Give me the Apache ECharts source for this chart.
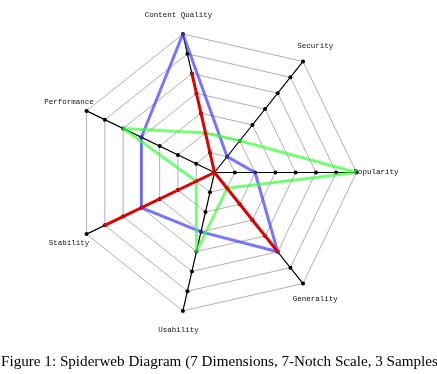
<!DOCTYPE html>
<html><head><meta charset="utf-8">
<script src="https://cdn.jsdelivr.net/npm/echarts@6/dist/echarts.min.js"></script>
<style>html,body{margin:0;padding:0;background:#fff}#c{width:437px;height:374px}</style>
</head><body><div id="c"></div>
<script>
const dimensions = ['Popularity','Security','Content Quality','Performance','Stability','Usability','Generality'];
const notches = [1,2,3,4,5,6,7];
const sampleBlue  = [2,1,7,4,4,3,5];
const sampleRed   = [0,0,5,0,6,0,5];
const sampleGreen = [7,2,2,5,1,4,1];
const caption = 'Figure 1: Spiderweb Diagram (7 Dimensions, 7-Notch Scale, 3 Samples)';

const chart = echarts.init(document.getElementById('c'));
const notchSeries = {
  type:'radar', silent:true, z:2,
  symbol:'circle', symbolSize:4,
  itemStyle:{color:'#000'},
  lineStyle:{width:0, opacity:0},
  data: notches.map(n => ({value: dimensions.map(()=>n)}))
};
function sample(vals, color, z){
  return {type:'radar', z:z, symbol:'none', lineStyle:{width:3, color:color}, data:[{value:vals}]};
}
chart.setOption({
  animation:false,
  title:{text:caption, left:1, top:355, padding:0, textStyle:{fontFamily:'Liberation Serif', fontSize:15.15, fontWeight:'normal', color:'#000'}},
  radar:{
    center:[214.5,172.5], radius:142, startAngle:0, shape:'polygon', splitNumber:7,
    indicator: dimensions.map(d=>({name:d, min:0, max:7})),
    axisName:{color:'#111', fontFamily:'Liberation Mono', fontSize:7.5, align:'center', verticalAlign:'middle'},
    nameGap:19.5,
    axisLine:{lineStyle:{color:'#000', width:1.2}},
    splitLine:{lineStyle:{color:'#b0b0b0', width:1}},
    splitArea:{show:false}
  },
  series:[notchSeries,
    sample(sampleBlue,'rgba(60,60,255,0.7)',3),
    sample(sampleGreen,'rgba(60,255,60,0.7)',4),
    sample(sampleRed,'#e00000',5)]
});
</script></body></html>
